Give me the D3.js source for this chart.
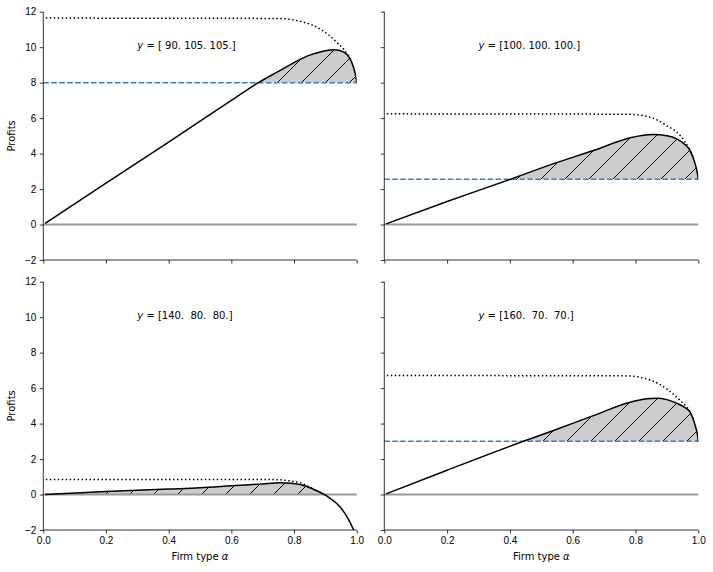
<!DOCTYPE html>
<html>
<head>
<meta charset="utf-8">
<script src="https://cdn.jsdelivr.net/npm/d3@7"></script>
<style>
  body { margin: 0; background: #fff; }
  svg { font-family: "DejaVu Sans", sans-serif; }
  .tick text { font-size: 10px; fill: #000; }
  .tick line, .domain { stroke: #000; stroke-width: 0.8; }
</style>
</head>
<body>
<svg id="fig" width="713" height="572"></svg>
<script>
// Values, one set per panel
const panelLabels = ["[ 90. 105. 105.]", "[100. 100. 100.]", "[140.  80.  80.]", "[160.  70.  70.]"];
const outsideOption = [8.0, 2.55, 0.0, 3.0];

const solidAlphaTL  = [0.006, 0.2, 0.4, 0.6, 0.686, 0.755, 0.79, 0.81, 0.83, 0.855, 0.883, 0.905, 0.925, 0.946, 0.968, 0.979, 0.99, 0.997, 1.0];
const solidProfitTL = [0.07, 2.33, 4.65, 7.0, 8.0, 8.68, 9.03, 9.23, 9.4, 9.58, 9.72, 9.81, 9.86, 9.81, 9.6, 9.34, 8.85, 8.35, 8.0];
const solidAlphaTR  = [0.006, 0.2, 0.4, 0.544, 0.666, 0.783, 0.82, 0.857, 0.9, 0.931, 0.955, 0.974, 0.99, 0.997, 1.0];
const solidProfitTR = [0.04, 1.3, 2.54, 3.46, 4.17, 4.89, 5.02, 5.07, 5.0, 4.83, 4.55, 4.17, 3.42, 2.9, 2.55];
const solidAlphaBL  = [0.006, 0.2, 0.4, 0.5, 0.6, 0.7, 0.755, 0.79, 0.819, 0.862, 0.904, 0.947, 0.973, 0.991];
const solidProfitBL = [0.0, 0.17, 0.31, 0.38, 0.49, 0.6, 0.66, 0.64, 0.56, 0.3, -0.08, -0.7, -1.37, -2.03];
const solidAlphaBR  = [0.006, 0.2, 0.443, 0.539, 0.666, 0.783, 0.83, 0.868, 0.9, 0.931, 0.955, 0.974, 0.99, 0.997, 1.0];
const solidProfitBR = [0.04, 1.37, 3.0, 3.61, 4.45, 5.2, 5.38, 5.43, 5.35, 5.15, 4.93, 4.64, 3.89, 3.4, 3.0];

const dottedAlphaTL  = [0.008, 0.75, 0.808, 0.85, 0.883, 0.91, 0.936, 0.96, 0.985];
const dottedProfitTL = [11.64, 11.62, 11.5, 11.3, 11.03, 10.7, 10.28, 9.85, 9.2];
const dottedAlphaTR  = [0.008, 0.772, 0.847, 0.899, 0.942, 0.974, 0.985];
const dottedProfitTR = [6.24, 6.22, 6.05, 5.58, 5.02, 4.17, 3.75];
const dottedAlphaBL  = [0.008, 0.75, 0.777, 0.819, 0.851, 0.875];
const dottedProfitBL = [0.85, 0.84, 0.79, 0.66, 0.41, 0.15];
const dottedAlphaBR  = [0.008, 0.772, 0.846, 0.899, 0.942, 0.974, 0.985];
const dottedProfitBR = [6.71, 6.69, 6.46, 5.96, 5.3, 4.64, 4.2];

const xTicks = [0, 0.2, 0.4, 0.6, 0.8, 1.0];
const yTicks = [-2, 0, 2, 4, 6, 8, 10, 12];

const panels = [
  { sa: solidAlphaTL, sp: solidProfitTL, da: dottedAlphaTL, dp: dottedProfitTL },
  { sa: solidAlphaTR, sp: solidProfitTR, da: dottedAlphaTR, dp: dottedProfitTR },
  { sa: solidAlphaBL, sp: solidProfitBL, da: dottedAlphaBL, dp: dottedProfitBL },
  { sa: solidAlphaBR, sp: solidProfitBR, da: dottedAlphaBR, dp: dottedProfitBR }
];

const svg = d3.select("#fig");

// hatch pattern, aligned to page coords
const defs = svg.append("defs");
const pat = defs.append("pattern")
  .attr("id", "hatch")
  .attr("patternUnits", "userSpaceOnUse")
  .attr("width", 24).attr("height", 24);
pat.append("rect").attr("width", 24).attr("height", 24).attr("fill", "#cccccc");
pat.append("path")
  .attr("d", "M0,24 L24,0 M-2,2 L2,-2 M22,26 L26,22")
  .attr("stroke", "#000").attr("stroke-width", 1);

const colX = [[43.3, 356.7], [384.3, 698.3]];
const rowY = [[260, 11.7], [530, 281.7]];

panels.forEach((p, i) => {
  const col = i % 2, row = Math.floor(i / 2);
  const x = d3.scaleLinear().domain([0, 1]).range(colX[col]);
  const y = d3.scaleLinear().domain([-2, 12]).range(rowY[row]);
  const g = svg.append("g");
  const top = y(12), bot = y(-2);

  const clipId = "clip" + i;
  defs.append("clipPath").attr("id", clipId).append("rect")
    .attr("x", x(0)).attr("y", top).attr("width", x(1) - x(0)).attr("height", bot - top);
  const fillClip = "fill" + i;
  defs.append("clipPath").attr("id", fillClip).append("rect")
    .attr("x", x(0)).attr("y", top).attr("width", x(1) - x(0)).attr("height", y(outsideOption[i]) - top);

  const solid = p.sa.map((a, k) => [a, p.sp[k]]);
  const dotted = p.da.map((a, k) => [a, p.dp[k]]);

  // hatched region between solid curve and outside option
  const area = d3.area()
    .x(d => x(d[0])).y0(y(outsideOption[i])).y1(d => y(d[1]))
    .curve(d3.curveMonotoneX);
  g.append("path").datum(solid)
    .attr("d", area)
    .attr("fill", "url(#hatch)")
    .attr("clip-path", `url(#${fillClip})`);

  // zero line
  g.append("line")
    .attr("x1", x(0)).attr("x2", x(1))
    .attr("y1", y(0)).attr("y2", y(0))
    .attr("stroke", "#999").attr("stroke-width", 2);

  // outside option
  if (outsideOption[i] !== 0) {
    g.append("line")
      .attr("x1", x(0)).attr("x2", x(1))
      .attr("y1", y(outsideOption[i])).attr("y2", y(outsideOption[i]))
      .attr("stroke", "#3584c0").attr("stroke-width", 1.5)
      .attr("stroke-dasharray", "5.55,2.4");
  }

  const line = d3.line().x(d => x(d[0])).y(d => y(d[1])).curve(d3.curveMonotoneX);

  g.append("path").datum(dotted)
    .attr("d", line)
    .attr("fill", "none").attr("stroke", "#000").attr("stroke-width", 1.5)
    .attr("stroke-dasharray", "1.5,2.475")
    .attr("clip-path", `url(#${clipId})`);

  g.append("path").datum(solid)
    .attr("d", line)
    .attr("fill", "none").attr("stroke", "#000").attr("stroke-width", 1.5)
    .attr("clip-path", `url(#${clipId})`);

  // axes
  const xAxis = d3.axisBottom(x).tickValues(xTicks).tickSize(3.5).tickPadding(3.5)
    .tickFormat(row === 1 ? d3.format(".1f") : "");
  g.append("g").attr("transform", `translate(0,${bot})`).call(xAxis)
    .call(s => s.select(".domain").attr("d", `M${x(0)},0H${x(1)}`));
  const yAxis = d3.axisLeft(y).tickValues(yTicks).tickSize(3.5).tickPadding(3.5)
    .tickFormat(col === 0 ? d3.format("d") : "");
  g.append("g").attr("transform", `translate(${x(0)},0)`).call(yAxis)
    .call(s => s.select(".domain").attr("d", `M0,${bot}V${top}`));

  // annotation
  const t = g.append("text")
    .attr("x", x(0.3)).attr("y", y(10) + 1.5)
    .attr("font-size", 10)
    .style("white-space", "pre");
  t.append("tspan").attr("font-style", "italic").text("y");
  t.append("tspan").text(" = " + panelLabels[i]);

  if (col === 0) {
    g.append("text")
      .attr("transform", `translate(15,${(top + bot) / 2}) rotate(-90)`)
      .attr("text-anchor", "middle").attr("font-size", 10)
      .text("Profits");
  }
  if (row === 1) {
    const xl = g.append("text")
      .attr("x", (x(0) + x(1)) / 2).attr("y", 560)
      .attr("text-anchor", "middle").attr("font-size", 10);
    xl.append("tspan").text("Firm type ");
    xl.append("tspan").attr("font-style", "italic").text("α");
  }
});
</script>
</body>
</html>
